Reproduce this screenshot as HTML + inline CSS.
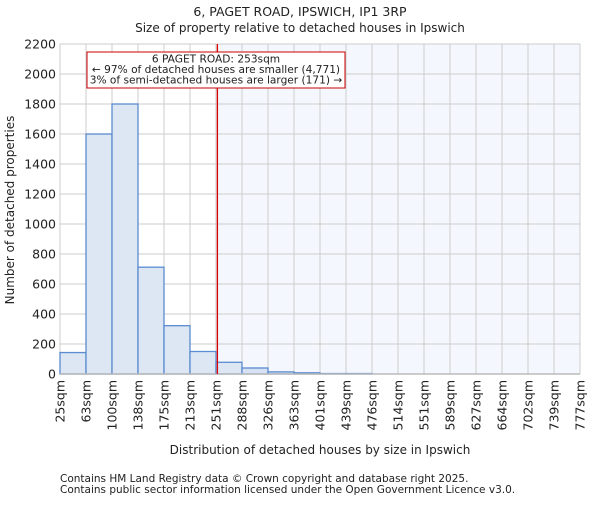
<!DOCTYPE html>
<html><head><meta charset="utf-8"><style>body{margin:0;background:#fff}svg text{font-family:"DejaVu Sans","Liberation Sans",sans-serif;fill:#222}</style></head>
<body>
<svg id="chart" width="600" height="500" xmlns="http://www.w3.org/2000/svg">
<text x="300" y="16" font-size="12.5" text-anchor="middle">6, PAGET ROAD, IPSWICH, IP1 3RP</text>
<text x="300" y="32" font-size="12" text-anchor="middle">Size of property relative to detached houses in Ipswich</text>
<g id="plot"></g>
<text x="320" y="454" font-size="12" text-anchor="middle">Distribution of detached houses by size in Ipswich</text>
<text transform="translate(14,210) rotate(-90)" font-size="12" text-anchor="middle">Number of detached properties</text>
<text x="60" y="482" font-size="10.5">Contains HM Land Registry data © Crown copyright and database right 2025.</text>
<text x="60" y="493" font-size="10.5">Contains public sector information licensed under the Open Government Licence v3.0.</text>
</svg>
<script>
const binEdges=[25,63,100,138,175,213,251,288,326,363,401,439,476,514,551,589,627,664,702,739,777];
const counts=[143,1600,1800,712,322,150,78,40,14,8,3,3,0,0,0,0,0,0,0,0];
const yTicks=[0,200,400,600,800,1000,1200,1400,1600,1800,2000,2200];
const propertySize=253;
const NS="http://www.w3.org/2000/svg";
const g=document.getElementById('plot');
const X0=60,X1=580,Y0=374,Y1=44,yMax=2200;
const nb=counts.length,bw=(X1-X0)/nb;
function xIdx(i){return X0+i*bw;}
function xVal(v){for(let i=0;i<binEdges.length-1;i++){if(v<=binEdges[i+1])return xIdx(i)+bw*(v-binEdges[i])/(binEdges[i+1]-binEdges[i]);}return X1;}
function y(v){return Y0-(Y0-Y1)*v/yMax;}
function mk(t,a){const e=document.createElementNS(NS,t);for(const k in a)e.setAttribute(k,a[k]);g.appendChild(e);return e;}
const px=xVal(propertySize);
let e=mk('rect',{x:px,y:Y1,width:X1-px,height:Y0-Y1,fill:'#f4f7fd'});


yTicks.forEach(t=>{let l=mk('line',{x1:X0,x2:X1,y1:y(t),y2:y(t),stroke:'#cccccc','stroke-width':1});


let tx=mk('text',{x:X0-4,y:y(t)+4.5,'font-size':12.5,'text-anchor':'end'});tx.textContent=t;

});
binEdges.forEach((b,i)=>{let l=mk('line',{x1:xIdx(i),x2:xIdx(i),y1:Y1,y2:Y0,stroke:'#cccccc','stroke-width':1});


let tx=mk('text',{transform:`translate(${xIdx(i)+4.5},${Y0+6}) rotate(-90)`,'font-size':12.5,'text-anchor':'end'});tx.textContent=b+'sqm';

});
counts.forEach((c,i)=>{if(c<=0)return;let r=mk('rect',{x:xIdx(i),y:y(c),width:bw,height:Y0-y(c),fill:xIdx(i)>=px-1?'#d6e2f3':'#dde7f4',stroke:'#5b8bd0','stroke-width':1.3});

});
e=mk('line',{x1:X0,x2:X1,y1:Y0,y2:Y0,stroke:'#bbbbbb','stroke-width':1.5});


e=mk('line',{x1:px,x2:px,y1:Y1,y2:Y0,stroke:'#dd0000','stroke-width':1.3});


e=mk('rect',{x:87,y:52,width:258,height:36,fill:'#fff',stroke:'#cc0000','stroke-width':1});


['6 PAGET ROAD: 253sqm','← 97% of detached houses are smaller (4,771)','3% of semi-detached houses are larger (171) →'].forEach((s,i)=>{let t=mk('text',{x:216,y:62.5+i*10.5,'font-size':10.6,'text-anchor':'middle'});t.textContent=s;

});
</script>
</body></html>
